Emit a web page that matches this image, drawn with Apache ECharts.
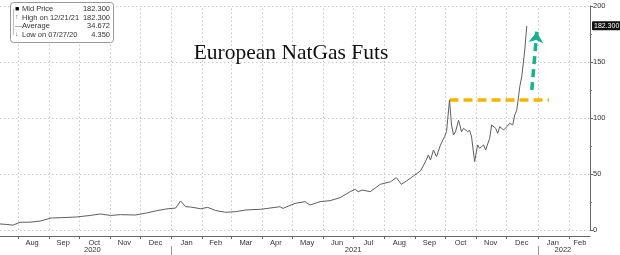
<!DOCTYPE html>
<html><head><meta charset="utf-8">
<script src="https://cdn.jsdelivr.net/npm/echarts@6/dist/echarts.min.js"></script>
<style>html,body{margin:0;padding:0;background:#fff}#c{width:620px;height:255px}</style>
</head><body><div id="c"></div>
<script>
const dates = ['2020-07-14','2020-07-20','2020-07-27','2020-08-03','2020-08-13','2020-08-23','2020-09-03','2020-09-13','2020-09-28','2020-10-12','2020-10-22','2020-11-01','2020-11-11','2020-11-26','2020-12-06','2020-12-16','2020-12-26','2021-01-05','2021-01-10','2021-01-15','2021-01-20','2021-01-30','2021-02-06','2021-02-14','2021-02-24','2021-03-06','2021-03-16','2021-03-31','2021-04-19','2021-04-22','2021-05-04','2021-05-14','2021-05-19','2021-05-29','2021-06-08','2021-06-18','2021-06-28','2021-07-03','2021-07-06','2021-07-10','2021-07-18','2021-07-28','2021-08-07','2021-08-13','2021-08-18','2021-08-23','2021-08-30','2021-09-06','2021-09-11','2021-09-14','2021-09-16','2021-09-19','2021-09-22','2021-09-26','2021-09-30','2021-10-02','2021-10-05','2021-10-07','2021-10-09','2021-10-11','2021-10-14','2021-10-17','2021-10-19','2021-10-23','2021-10-25','2021-10-27','2021-10-30','2021-11-02','2021-11-04','2021-11-08','2021-11-10','2021-11-14','2021-11-16','2021-11-20','2021-11-22','2021-11-24','2021-11-28','2021-12-01','2021-12-04','2021-12-07','2021-12-09','2021-12-11','2021-12-13','2021-12-14','2021-12-16','2021-12-17','2021-12-19','2021-12-21'];
const prices = [5.4,5.0,4.35,6.9,7.0,8.0,10.7,11.0,11.6,13.0,14.3,13.0,13.7,13.4,15.0,17.0,18.7,19.6,25.9,20.8,20.5,19.0,20.2,17.3,15.8,16.4,17.9,18.5,20.8,19.3,23.8,25.3,22.3,25.3,26.2,28.9,34.2,36.3,34.2,35.7,34.2,40.8,43.0,46.7,40.8,43.7,48.2,52.7,61.0,67.0,62.5,71.4,65.5,75.9,83.3,87.8,116.0,93.8,84.8,87.8,98.0,87.8,90.8,87.8,89.0,83.0,61.0,75.9,73.0,75.9,71.4,81.9,93.8,90.8,86.3,92.2,89.3,92.2,95.3,93.8,102.7,107.0,120.5,128.0,137.0,138.0,160.7,182.3];
const monthNames = ['Jan','Feb','Mar','Apr','May','Jun','Jul','Aug','Sep','Oct','Nov','Dec'];
const monthLabelDates = ['2020-08-15','2020-09-15','2020-10-16','2020-11-15','2020-12-16','2021-01-16','2021-02-14','2021-03-16','2021-04-15','2021-05-16','2021-06-15','2021-07-16','2021-08-16','2021-09-15','2021-10-16','2021-11-15','2021-12-16','2022-01-16','2022-02-12'];
const monthStarts = ['2020-08-01','2020-09-01','2020-10-01','2020-11-01','2020-12-01','2021-01-01','2021-02-01','2021-03-01','2021-04-01','2021-05-01','2021-06-01','2021-07-01','2021-08-01','2021-09-01','2021-10-01','2021-11-01','2021-12-01','2022-01-01','2022-02-01'];
const yearLabelDates = ['2020-10-14','2021-07-01','2022-01-26'];
const yearLabels = ['2020','2021','2022'];
const yearStarts = ['2021-01-01','2022-01-01'];
const resistance = [['2021-10-05',116],['2022-01-12',116]];
const arrowPts = [['2021-12-26',125],['2021-12-31',177]];
const lastPrice = 182.3;
const lastPriceText = '182.300';
const legendRows = [['Mid Price','182.300'],['High on 12/21/21','182.300'],['Average','34.672'],['Low on 07/27/20','4.350']];
const legendIcons = ['\u25A0','\u2191','\u2014','\u2193'];
const titleText = 'European NatGas Futs';

const ts = s => Date.UTC(+s.slice(0,4), +s.slice(5,7)-1, +s.slice(8,10));
const chart = echarts.init(document.getElementById('c'), null, {renderer:'canvas'});
const xMin = ts('2020-07-14'), xMax = ts('2022-02-22');
const font = 'Liberation Sans, Arial, sans-serif';
const yearTs = yearLabelDates.map(ts);
const gridColor = '#c8c8c8';

const legendGraphics = [
  {type:'rect', shape:{x:10.5,y:2.5,width:103,height:40,r:3}, style:{fill:'#fff',stroke:'#999',lineWidth:1}, z:100},
  {type:'line', shape:{x1:13.5,y1:9,x2:13.5,y2:35}, style:{stroke:'#bbb',lineWidth:1}, z:101}
];
legendRows.forEach((r,i)=>{
  const y = 9 + i*8.5;
  legendGraphics.push({type:'text', x:15, y:y, style:{text:legendIcons[i], font:'7px '+font, fill:i===0?'#000':'#666', verticalAlign:'middle'}, z:102});
  legendGraphics.push({type:'text', x:22, y:y, style:{text:r[0], font:'7.5px '+font, fill:'#333', verticalAlign:'middle'}, z:102});
  legendGraphics.push({type:'text', x:110, y:y, style:{text:r[1], font:'7.5px '+font, fill:'#333', align:'right', verticalAlign:'middle'}, z:102});
});
legendGraphics.push({type:'text', x:291, y:53, style:{text:titleText, font:'21.5px "Liberation Serif", "Times New Roman", serif', fill:'#111', align:'center', verticalAlign:'middle'}, z:102});

const option = {
  animation:false,
  backgroundColor:'#fff',
  grid:{left:0,right:30,top:6,bottom:25,containLabel:false},
  xAxis:[{
    type:'value', min:xMin, max:xMax, position:'bottom', offset:6,
    axisLine:{show:true,onZero:false,lineStyle:{color:'#666',width:1}},
    axisTick:{show:true,length:3,lineStyle:{color:'#666'},customValues:monthStarts.map(ts)},
    axisLabel:{show:true,customValues:monthLabelDates.map(ts),margin:3,fontSize:7.5,color:'#333',fontFamily:font,
      formatter:v=>monthNames[new Date(v).getUTCMonth()]},
    splitLine:{show:false}
  },{
    type:'value', min:xMin, max:xMax, position:'bottom', offset:16,
    axisLine:{show:false,onZero:false},
    axisTick:{show:true,length:9,inside:false,lineStyle:{color:'#999'},customValues:yearStarts.map(ts)},
    axisLabel:{show:true,customValues:yearTs,margin:0,fontSize:7.5,color:'#333',fontFamily:font,
      formatter:v=>{const k=yearTs.indexOf(v);return k>=0?yearLabels[k]:'';}},
    splitLine:{show:false}
  }],
  yAxis:{
    type:'value', position:'right', min:0, max:200, interval:50,
    axisLine:{show:true,lineStyle:{color:'#666',width:1}},
    axisTick:{show:true,length:3,lineStyle:{color:'#666'}},
    minorTick:{show:true,splitNumber:2,length:2,lineStyle:{color:'#888'}},
    axisLabel:{show:true,margin:3,fontSize:7.5,color:'#333',fontFamily:font},
    splitLine:{show:true,lineStyle:{color:gridColor,type:[1.5,2.5],width:1}}
  },
  graphic:legendGraphics,
  series:[{
    type:'line', xAxisIndex:0, data:[], silent:true, z:1,
    markLine:{silent:true,symbol:'none',animation:false,label:{show:false},
      lineStyle:{color:gridColor,width:1,type:[1.5,2.5]},
      data:monthStarts.map(d=>({xAxis:ts(d)}))}
  },{
    type:'line', xAxisIndex:0, showSymbol:false, silent:true,
    data:dates.map((d,i)=>[ts(d),prices[i]]),
    lineStyle:{color:'#5e5e5e',width:1},
    z:5,
    markLine:{silent:true,symbol:'none',animation:false,
      data:[{yAxis:lastPrice,lineStyle:{color:'rgba(0,0,0,0)',width:0},
        label:{show:true,position:'end',distance:2,formatter:lastPriceText,backgroundColor:'#111',color:'#fff',
          padding:[1,2,1,2],fontSize:7,fontFamily:font,borderRadius:1}}]}
  },{
    type:'line', xAxisIndex:0, data:[], silent:true, z:6,
    markLine:{silent:true,symbol:'none',animation:false,label:{show:false},
      lineStyle:{color:'#f5b400',width:3.5,type:[9,5]},
      data:[[{coord:[ts(resistance[0][0]),resistance[0][1]]},{coord:[ts(resistance[1][0]),resistance[1][1]]}]]}
  },{
    type:'line', xAxisIndex:0, data:[], silent:true, z:7,
    markLine:{silent:true,symbol:['none','arrow'],symbolSize:[11,11],animation:false,label:{show:false},
      lineStyle:{color:'#1bb08c',width:3.5,type:[8,5]},
      data:[[{coord:[ts(arrowPts[0][0]),arrowPts[0][1]]},{coord:[ts(arrowPts[1][0]),arrowPts[1][1]]}]]}
  }]
};
chart.setOption(option);
</script></body></html>
